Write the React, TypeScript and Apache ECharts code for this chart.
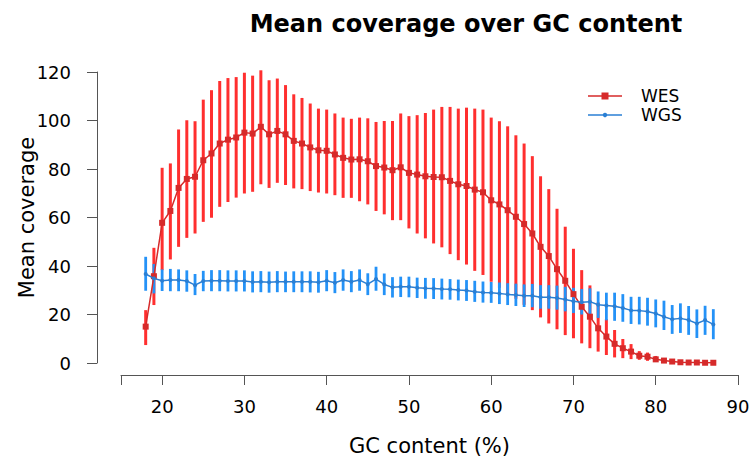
import React, { useEffect, useRef } from "react";
import * as echarts from "echarts";

const gc: number[] = [];
for (let v = 18; v <= 87; v++) gc.push(v);

const wesMean = [15.0, 35.8, 57.8, 62.7, 72.2, 75.9, 76.8, 83.6, 86.4, 90.5, 92.1, 93.0, 95.0, 94.6, 97.4, 94.3, 95.7, 94.3, 91.6, 90.5, 88.9, 87.7, 87.5, 86.0, 84.6, 83.9, 84.0, 83.2, 81.2, 80.6, 79.5, 80.7, 78.4, 77.7, 77.0, 76.7, 76.6, 75.1, 73.7, 73.0, 71.5, 70.4, 67.1, 65.4, 63.0, 60.3, 57.3, 53.4, 47.9, 44.1, 38.7, 33.9, 28.4, 23.2, 19.1, 14.3, 10.9, 7.9, 6.1, 4.7, 3.0, 2.6, 1.5, 1.0, 0.6, 0.3, 0.2, 0.2, 0.1, 0.1];
const wesHigh = [21.8, 47.5, 80.5, 82.3, 96.3, 100.1, 99.7, 108.6, 112.5, 116.3, 117.5, 117.9, 119.7, 118.5, 120.7, 116.6, 117.3, 114.6, 110.8, 109.3, 107.0, 104.9, 104.5, 102.9, 101.2, 100.7, 101.2, 100.9, 99.4, 99.8, 99.8, 102.9, 101.8, 102.2, 103.1, 104.5, 105.6, 105.6, 104.9, 105.3, 104.9, 104.5, 101.2, 99.7, 97.6, 93.9, 90.5, 85.3, 77.0, 71.7, 63.6, 56.2, 47.1, 38.3, 32.0, 25.0, 18.1, 13.6, 9.9, 7.8, 4.9, 4.3, 2.9, 1.8, 1.2, 0.7, 0.5, 0.4, 0.3, 0.2];
const wesLow = [7.4, 23.9, 38.3, 42.7, 47.9, 51.6, 53.4, 58.2, 59.9, 64.4, 66.4, 68.2, 69.9, 70.6, 73.7, 72.2, 74.3, 73.4, 72.0, 71.7, 70.9, 70.3, 69.9, 69.2, 68.1, 68.1, 66.7, 65.4, 62.7, 61.3, 58.9, 58.9, 55.5, 53.4, 51.4, 49.3, 47.7, 44.9, 42.4, 40.6, 38.0, 36.3, 33.5, 31.0, 28.5, 26.5, 24.0, 21.8, 18.8, 16.3, 13.9, 11.5, 10.2, 8.1, 6.1, 4.7, 3.3, 2.3, 2.0, 1.6, 1.3, 0.9, 0.4, 0.3, 0.1, 0, 0, 0, 0, 0];

const wgsMean = [36.7, 34.9, 33.9, 34.2, 34.2, 33.8, 32.1, 33.8, 33.9, 33.9, 33.8, 33.8, 33.8, 33.4, 33.5, 33.3, 33.5, 33.5, 33.5, 33.5, 33.5, 33.3, 33.9, 33.1, 34.2, 33.5, 34.2, 32.5, 34.6, 32.4, 31.2, 31.4, 31.4, 31.0, 30.8, 30.7, 30.5, 30.4, 30.1, 29.9, 29.4, 29.1, 29.0, 28.7, 28.3, 28.0, 27.7, 27.7, 27.1, 27.1, 26.8, 26.2, 25.5, 25.1, 25.3, 24.0, 23.7, 23.4, 22.7, 21.7, 21.6, 21.2, 20.4, 19.1, 18.0, 18.4, 17.7, 16.3, 17.7, 15.9];
const wgsHigh = [43.8, 40.8, 38.6, 38.8, 38.6, 38.2, 36.7, 38.0, 38.3, 38.3, 38.2, 38.2, 38.2, 37.8, 37.9, 37.7, 37.9, 37.7, 37.8, 37.8, 37.8, 37.6, 38.3, 37.5, 38.6, 37.9, 38.6, 37.0, 39.7, 36.9, 35.4, 35.6, 35.6, 35.2, 35.1, 35.0, 34.8, 34.6, 34.4, 34.2, 33.9, 33.6, 33.4, 33.2, 32.9, 32.7, 32.4, 32.6, 32.1, 32.1, 31.9, 31.4, 31.0, 30.5, 30.8, 29.5, 29.0, 29.0, 28.4, 27.3, 27.3, 26.9, 26.2, 25.7, 23.9, 24.6, 23.5, 22.1, 23.6, 22.2];
const wgsLow = [29.8, 28.7, 29.7, 29.6, 29.6, 29.4, 28.0, 29.6, 29.6, 29.6, 29.5, 29.5, 29.5, 29.1, 29.2, 29.0, 29.2, 29.2, 29.2, 29.2, 29.1, 29.0, 29.6, 28.8, 29.8, 29.2, 29.8, 28.0, 29.8, 28.0, 27.0, 27.2, 27.1, 26.8, 26.5, 26.4, 26.2, 26.1, 25.8, 25.6, 25.2, 24.9, 24.8, 24.3, 23.9, 23.5, 23.1, 23.0, 22.4, 22.4, 22.0, 21.3, 20.6, 20.0, 20.2, 18.6, 17.6, 17.4, 17.0, 16.1, 15.9, 15.4, 14.7, 13.6, 12.0, 12.4, 11.6, 10.3, 11.6, 9.8];

const xTicks = [15, 20, 30, 40, 50, 60, 70, 80, 90];
const xLabels = [20, 30, 40, 50, 60, 70, 80, 90];
const legendNames = ["WES", "WGS"];

const FONT = "DejaVu Sans";
const RED_BAR = "#ff2f2f";
const RED_LINE = "#d62a2a";
const BLUE_BAR = "#2492f7";
const BLUE_LINE = "#2a7fd4";

function errSeries(name: string, low: number[], high: number[], color: string, width: number, z: number) {
  return {
    type: "custom",
    name,
    z,
    silent: true,
    data: gc.map((x, i) => [x, low[i], high[i]]),
    encode: { x: 0, y: [1, 2] },
    renderItem: (params: any, api: any) => {
      const p1 = api.coord([api.value(0), api.value(1)]);
      const p2 = api.coord([api.value(0), api.value(2)]);
      return {
        type: "line",
        shape: { x1: p1[0], y1: p1[1], x2: p2[0], y2: p2[1] },
        style: { stroke: color, lineWidth: width },
      };
    },
  };
}

function legendGraphic() {
  const x0 = 588;
  const x1 = 622;
  const rows = [
    { y: 96, name: legendNames[0], color: RED_LINE, marker: "rect" },
    { y: 115, name: legendNames[1], color: BLUE_LINE, marker: "circle" },
  ];
  const els: any[] = [];
  rows.forEach((r) => {
    els.push({ type: "line", shape: { x1: x0, y1: r.y, x2: x1, y2: r.y }, style: { stroke: r.color, lineWidth: 1.5 } });
    if (r.marker === "rect") {
      els.push({ type: "rect", shape: { x: (x0 + x1) / 2 - 3.5, y: r.y - 3.5, width: 7, height: 7 }, style: { fill: r.color } });
    } else {
      els.push({ type: "circle", shape: { cx: (x0 + x1) / 2, cy: r.y, r: 2.2 }, style: { fill: r.color } });
    }
    els.push({
      type: "text",
      x: 641,
      y: r.y,
      style: { text: r.name, fontFamily: FONT, fontSize: 17, fill: "#000", textVerticalAlign: "middle", textAlign: "left" },
    });
  });
  return els;
}

export default function App() {
  const ref = useRef<HTMLDivElement>(null);
  useEffect(() => {
    if (!ref.current) return;
    const chart = echarts.init(ref.current, undefined, { renderer: "svg" });
    chart.setOption({
      animation: false,
      backgroundColor: "#ffffff",
      title: {
        text: "Mean coverage over GC content",
        left: 461,
        top: 7,
        textAlign: "center",
        textStyle: { fontFamily: FONT, fontSize: 24, fontWeight: "bold", color: "#000" },
      },
      graphic: legendGraphic(),
      grid: { left: 121, right: 15, top: 72, bottom: 95, outerBoundsMode: "none", containLabel: false },
      xAxis: {
        type: "value",
        min: 15,
        max: 90,
        interval: 5,
        offset: 12,
        name: "GC content (%)",
        nameLocation: "middle",
        nameGap: 60,
        nameMoveOverlap: false,
        nameTextStyle: { fontFamily: FONT, fontSize: 21, color: "#000" },
        axisLine: { show: true, onZero: false, lineStyle: { color: "#555", width: 1 } },
        axisTick: { show: true, length: 10, customValues: xTicks, lineStyle: { color: "#555" } },
        axisLabel: { customValues: xLabels, fontFamily: FONT, fontSize: 18, color: "#000", margin: 22 },
        splitLine: { show: false },
      },
      yAxis: {
        type: "value",
        min: 0,
        max: 120,
        interval: 20,
        offset: 24,
        name: "Mean coverage",
        nameLocation: "middle",
        nameGap: 60,
        nameMoveOverlap: false,
        nameTextStyle: { fontFamily: FONT, fontSize: 21, color: "#000" },
        axisLine: { show: true, onZero: false, lineStyle: { color: "#555", width: 1 } },
        axisTick: { show: true, length: 10, lineStyle: { color: "#555" } },
        axisLabel: { fontFamily: FONT, fontSize: 18, color: "#000", margin: 26 },
        splitLine: { show: false },
      },
      series: [
        errSeries("WES range", wesLow, wesHigh, RED_BAR, 3, 1),
        errSeries("WGS range", wgsLow, wgsHigh, BLUE_BAR, 2.8, 2),
        {
          type: "line",
          name: "WES",
          z: 3,
          data: gc.map((x, i) => [x, wesMean[i]]),
          symbol: "rect",
          symbolSize: 6,
          lineStyle: { color: RED_LINE, width: 1.5 },
          itemStyle: { color: RED_LINE },
        },
        {
          type: "line",
          name: "WGS",
          z: 4,
          data: gc.map((x, i) => [x, wgsMean[i]]),
          symbol: "circle",
          symbolSize: 4,
          lineStyle: { color: BLUE_LINE, width: 1.5 },
          itemStyle: { color: BLUE_LINE },
        },
      ],
    });
    return () => chart.dispose();
  }, []);
  return (
    <div
      ref={ref}
      style={{ position: "absolute", left: 0, top: 0, width: 753, height: 458 }}
    />
  );
}
